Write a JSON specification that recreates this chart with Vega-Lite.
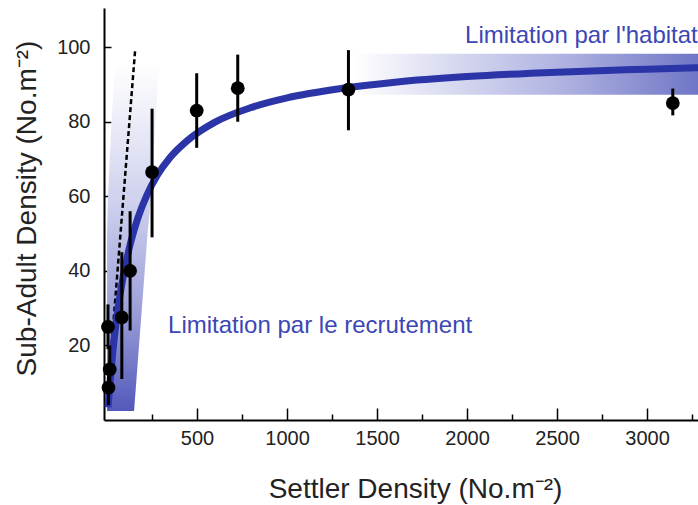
{
  "$schema": "https://vega.github.io/schema/vega-lite/v6.json",
  "width": 594,
  "height": 412,
  "autosize": {"type": "none"},
  "padding": {"left": 104, "top": 8, "right": 0, "bottom": 85},
  "background": "white",
  "config": {"view": {"stroke": null}, "font": "Liberation Sans"},
  "datasets": {
    "habitat": [
      {"hx": 1370, "hy": 87.2, "hy2": 98.2},
      {"hx": 3290, "hy": 87.2, "hy2": 98.2}
    ],
    "recruit": [
      {"by": 2.4, "bx": 0, "bx2": 150},
      {"by": 50, "bx": 0, "bx2": 225},
      {"by": 60, "bx": 5, "bx2": 245},
      {"by": 80, "bx": 25, "bx2": 268},
      {"by": 96, "bx": 45, "bx2": 290}
    ],
    "dashed": [
      {"dx": 12, "dy": 12},
      {"dx": 156, "dy": 99.2}
    ],
    "curve": [
      {"cx": 5, "cy": 3.4},
      {"cx": 15, "cy": 9.5},
      {"cx": 30, "cy": 17.4},
      {"cx": 50, "cy": 25.9},
      {"cx": 75, "cy": 34.4},
      {"cx": 100, "cy": 41.0},
      {"cx": 130, "cy": 47.4},
      {"cx": 170, "cy": 54.0},
      {"cx": 220, "cy": 60.2},
      {"cx": 280, "cy": 65.7},
      {"cx": 350, "cy": 70.4},
      {"cx": 450, "cy": 75.1},
      {"cx": 600, "cy": 79.9},
      {"cx": 800, "cy": 83.8},
      {"cx": 1000, "cy": 86.4},
      {"cx": 1300, "cy": 88.9},
      {"cx": 1600, "cy": 90.6},
      {"cx": 2000, "cy": 92.1},
      {"cx": 2500, "cy": 93.3},
      {"cx": 3000, "cy": 94.1},
      {"cx": 3290, "cy": 94.5}
    ],
    "points": [
      {"settler": 8, "subadult": 8.7, "lo": 4, "hi": 13},
      {"settler": 15, "subadult": 13.6, "lo": 8, "hi": 20},
      {"settler": 5, "subadult": 25, "lo": 19, "hi": 31},
      {"settler": 82, "subadult": 27.5, "lo": 11, "hi": 45},
      {"settler": 128, "subadult": 40, "lo": 24, "hi": 56},
      {"settler": 250, "subadult": 66.5, "lo": 49, "hi": 83.5},
      {"settler": 498, "subadult": 83, "lo": 73, "hi": 93},
      {"settler": 726, "subadult": 89, "lo": 80, "hi": 98},
      {"settler": 1341, "subadult": 88.6, "lo": 77.7, "hi": 99.2},
      {"settler": 3143, "subadult": 85, "lo": 81.7, "hi": 88.9}
    ],
    "labels": [
      {"lx": 339, "ly": 23.4, "text": "Limitation par le recrutement"},
      {"lx": 1989, "ly": 101, "text": "Limitation par l'habitat"}
    ]
  },
  "resolve": {"axis": {"x": "independent"}},
  "layer": [
    {
      "data": {"name": "habitat"},
      "mark": {
        "type": "area",
        "color": {
          "gradient": "linear",
          "x1": 0, "y1": 0, "x2": 1, "y2": 0,
          "stops": [
            {"offset": 0, "color": "#ffffff"},
            {"offset": 0.25, "color": "#dcdef2"},
            {"offset": 0.6, "color": "#b0b3e1"},
            {"offset": 1, "color": "#6f75c6"}
          ]
        }
      },
      "encoding": {
        "x": {
          "field": "hx", "type": "quantitative",
          "scale": {"domain": [-17, 3283], "nice": false, "zero": false},
          "axis": {
            "values": [500, 1000, 1500, 2000, 2500, 3000],
            "format": "d",
            "orient": "bottom",
            "grid": false,
            "tickSize": -12, "tickWidth": 1.5, "tickColor": "black",
            "domainColor": "black", "domainWidth": 2,
            "labelFontSize": 20, "labelPadding": 20, "labelColor": "#222",
            "title": "Settler Density (No.m⁻²)",
            "titleFontSize": 28, "titleFontWeight": "normal", "titleColor": "#222",
            "titleX": 311, "titleY": 77, "titleBaseline": "alphabetic", "titleAlign": "center"
          }
        },
        "y": {
          "field": "hy", "type": "quantitative",
          "scale": {"domain": [0, 110.5], "nice": false, "zero": false},
          "axis": {
            "values": [20, 40, 60, 80, 100],
            "grid": false,
            "tickSize": -7, "tickWidth": 1.5, "tickColor": "black",
            "domainColor": "black", "domainWidth": 2,
            "labelFontSize": 20, "labelPadding": 21, "labelColor": "#222",
            "title": "Sub-Adult Density (No.m⁻²)",
            "titleFontSize": 28, "titleFontWeight": "normal", "titleColor": "#222",
            "titleX": -77, "titleY": 200, "titleAngle": -90,
            "titleAlign": "center", "titleBaseline": "middle"
          }
        },
        "y2": {"field": "hy2"}
      }
    },
    {
      "data": {"name": "recruit"},
      "mark": {
        "type": "area",
        "orient": "horizontal",
        "color": {
          "gradient": "linear",
          "x1": 0, "y1": 1, "x2": 0, "y2": 0,
          "stops": [
            {"offset": 0, "color": "#5358bb"},
            {"offset": 0.3, "color": "#9ea2d9"},
            {"offset": 0.6, "color": "#cfd1ee"},
            {"offset": 0.85, "color": "#eeeff9"},
            {"offset": 1, "color": "#ffffff"}
          ]
        }
      },
      "encoding": {
        "y": {"field": "by", "type": "quantitative"},
        "x": {"field": "bx", "type": "quantitative", "axis": null},
        "x2": {"field": "bx2"}
      }
    },
    {
      "data": {"name": "dashed"},
      "mark": {"type": "line", "color": "black", "strokeWidth": 2.5, "strokeDash": [5, 3]},
      "encoding": {
        "x": {"field": "dx", "type": "quantitative", "axis": null},
        "y": {"field": "dy", "type": "quantitative"}
      }
    },
    {
      "data": {"name": "curve"},
      "mark": {"type": "line", "color": "#2b35a8", "strokeWidth": 7, "interpolate": "monotone", "strokeCap": "butt"},
      "encoding": {
        "x": {
          "field": "cx", "type": "quantitative",
          "axis": {
            "values": [250, 750, 1250, 1750, 2250, 2750, 3250],
            "orient": "bottom",
            "labels": false, "domain": false, "grid": false,
            "tickSize": -6, "tickWidth": 1.5, "tickColor": "black",
            "title": null
          }
        },
        "y": {"field": "cy", "type": "quantitative"}
      }
    },
    {
      "data": {"name": "points"},
      "mark": {"type": "rule", "color": "black", "strokeWidth": 3},
      "encoding": {
        "x": {"field": "settler", "type": "quantitative", "axis": null},
        "y": {"field": "lo", "type": "quantitative"},
        "y2": {"field": "hi"}
      }
    },
    {
      "data": {"name": "points"},
      "mark": {"type": "circle", "color": "black", "opacity": 1, "size": 190},
      "encoding": {
        "x": {"field": "settler", "type": "quantitative", "axis": null},
        "y": {"field": "subadult", "type": "quantitative"}
      }
    },
    {
      "data": {"name": "labels"},
      "mark": {"type": "text", "align": "left", "baseline": "alphabetic", "fontSize": 24, "color": "#3c46b4"},
      "encoding": {
        "x": {"field": "lx", "type": "quantitative", "axis": null},
        "y": {"field": "ly", "type": "quantitative"},
        "text": {"field": "text"}
      }
    }
  ]
}
